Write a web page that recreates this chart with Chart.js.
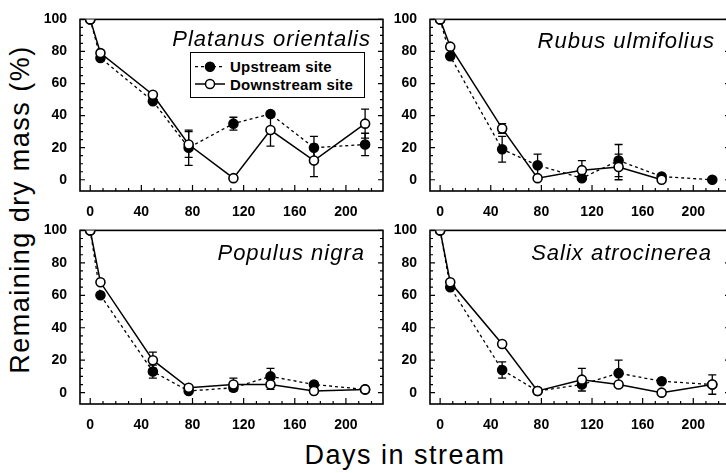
<!DOCTYPE html>
<html>
<head>
<meta charset="utf-8">
<script src="https://cdn.jsdelivr.net/npm/chart.js@4.4.0/dist/chart.umd.min.js"></script>
<style>
  html, body { margin:0; padding:0; background:#fff; overflow:hidden; width:726px; height:473px; }
  body { position:relative; font-family:"Liberation Sans", Arial, sans-serif; color:#000; }
  canvas, .txt, .box, svg { position:absolute; }
  .title { font-style:italic; font-size:22px; line-height:22px; letter-spacing:1px; white-space:nowrap; text-align:right; }
  .axis { font-size:27px; line-height:27px; letter-spacing:1.5px; white-space:nowrap; text-align:center; }
  .leg { font-size:15px; line-height:15px; font-weight:bold; letter-spacing:0.2px; white-space:nowrap; }
</style>
</head>
<body>
<canvas id="c1" width="356" height="211" style="left:35px;top:6px"></canvas>
<canvas id="c2" width="353" height="211" style="left:385px;top:6px"></canvas>
<canvas id="c3" width="356" height="213" style="left:35px;top:217px"></canvas>
<canvas id="c4" width="353" height="213" style="left:385px;top:217px"></canvas>

<div class="txt title" style="right:355px;top:28px">Platanus orientalis</div>
<div class="txt title" style="right:11px;top:30px">Rubus ulmifolius</div>
<div class="txt title" style="right:361px;top:242px">Populus nigra</div>
<div class="txt title" style="right:14px;top:242px">Salix atrocinerea</div>

<div class="box" style="left:190px;top:52px;width:175px;height:46px;box-sizing:border-box;border:1.5px solid #000;background:#fff"></div>
<svg width="36" height="34" style="left:193px;top:58px">
  <line x1="2" y1="8.7" x2="32" y2="8.7" stroke="#000" stroke-width="1.3" stroke-dasharray="3,3"/>
  <circle cx="17" cy="8.7" r="4.5" fill="#000" stroke="#000" stroke-width="1.5"/>
  <line x1="2" y1="26" x2="32" y2="26" stroke="#000" stroke-width="1.5"/>
  <circle cx="17" cy="26" r="4.5" fill="#fff" stroke="#000" stroke-width="1.5"/>
</svg>
<div class="txt leg" style="left:230px;top:59px">Upstream site</div>
<div class="txt leg" style="left:230px;top:77px">Downstream site</div>

<div class="txt axis" style="left:-180px;top:196px;width:400px;transform:rotate(-90deg)">Remaining dry mass (%)</div>
<div class="txt axis" style="left:205px;top:442px;width:400px">Days in stream</div>

<script>
// sampling days (same for every species)
const days = [0, 8, 49, 77, 112, 141, 175, 215];
const yTicks = [0, 20, 40, 60, 80, 100];
const xTicks = [0, 40, 80, 120, 160, 200];

// Platanus orientalis
const platUp = [100, 76, 49, 20, 35, 41, 20, 22];
const platUpErr = [0, 0, 0, 11, 4, 0, 7, 7];
const platDown = [100, 79, 53, 22, 1, 31, 12, 35];
const platDownErr = [0, 0, 0, 8, 0, 10, 10, 9];

// Rubus ulmifolius
const rubUp = [100, 77, 19, 9, 1, 12, 2, 0];
const rubUpErr = [0, 0, 8, 7, 0, 10, 0, 0];
const rubDown = [100, 83, 32, 1, 6, 8, 0, null];
const rubDownErr = [0, 0, 3, 0, 6, 8, 0, 0];

// Populus nigra
const popUp = [100, 60, 13, 1, 3, 10, 5, 2];
const popUpErr = [0, 0, 4, 0, 0, 5, 0, 0];
const popDown = [100, 68, 20, 3, 5, 5, 1, 2];
const popDownErr = [0, 0, 5, 0, 4, 3, 0, 0];

// Salix atrocinerea
const salUp = [100, 65, 14, 1, 5, 12, 7, 5];
const salUpErr = [0, 0, 5, 0, 0, 8, 0, 0];
const salDown = [100, 68, 30, 1, 8, 5, 0, 5];
const salDownErr = [0, 0, 0, 0, 7, 0, 0, 6];

function pts(vals) {
  return days.map((d, i) => ({ x: d, y: vals[i] }));
}

// box round the plot with inward ticks
const frame = {
  id: 'frame',
  beforeDatasetsDraw(chart) {
    const { ctx, chartArea: a, scales: { x, y } } = chart;
    ctx.save();
    ctx.strokeStyle = '#000';
    ctx.lineWidth = 1.6;
    ctx.strokeRect(a.left, a.top, a.right - a.left, a.bottom - a.top);
    ctx.lineWidth = 1.2;
    ctx.beginPath();
    for (let v = 0; v <= 100; v += 5) {
      const py = y.getPixelForValue(v), len = v % 20 ? 3 : 5;
      ctx.moveTo(a.left, py); ctx.lineTo(a.left + len, py);
      ctx.moveTo(a.right, py); ctx.lineTo(a.right - len, py);
    }
    for (let v = 0; v <= x.max; v += 10) {
      const px = x.getPixelForValue(v), len = v % 40 ? 3 : 6;
      ctx.moveTo(px, a.bottom); ctx.lineTo(px, a.bottom - len);
    }
    ctx.stroke();
    ctx.restore();
  }
};

// vertical error bars from each dataset's errs array
const errorBars = {
  id: 'errorBars',
  beforeDatasetsDraw(chart) {
    const { ctx, scales: { x, y } } = chart;
    ctx.save();
    ctx.strokeStyle = '#000';
    ctx.lineWidth = 1.3;
    chart.data.datasets.forEach(ds => {
      (ds.errs || []).forEach((e, i) => {
        const p = ds.data[i];
        if (!e || p.y == null) return;
        const px = x.getPixelForValue(p.x);
        const t = y.getPixelForValue(p.y + e), b = y.getPixelForValue(p.y - e);
        ctx.beginPath();
        ctx.moveTo(px, t); ctx.lineTo(px, b);
        ctx.moveTo(px - 4, t); ctx.lineTo(px + 4, t);
        ctx.moveTo(px - 4, b); ctx.lineTo(px + 4, b);
        ctx.stroke();
      });
    });
    ctx.restore();
  }
};

function makePanel(id, up, upErr, down, downErr) {
  new Chart(document.getElementById(id), {
    type: 'line',
    data: {
      datasets: [
        {
          label: 'Downstream site',
          data: pts(down), errs: downErr,
          borderColor: '#000', borderWidth: 1.5,
          pointRadius: 4.5, pointBackgroundColor: '#fff',
          pointBorderColor: '#000', pointBorderWidth: 1.6
        },
        {
          label: 'Upstream site',
          data: pts(up), errs: upErr,
          borderColor: '#000', borderWidth: 1.3, borderDash: [3, 3],
          pointRadius: 4.5, pointBackgroundColor: '#000',
          pointBorderColor: '#000', pointBorderWidth: 1.6
        }
      ]
    },
    options: {
      responsive: false,
      animation: false,
      devicePixelRatio: 1,
      layout: { padding: { top: 10, right: 8, left: 0, bottom: 0 } },
      plugins: { legend: { display: false }, tooltip: { enabled: false } },
      scales: {
        x: {
          type: 'linear', min: -8, max: 229,
          grid: { display: false }, border: { display: false },
          afterBuildTicks: s => { s.ticks = xTicks.map(v => ({ value: v })); },
          afterFit: s => { s.height = 26; },
          ticks: { color: '#000', padding: 5, maxRotation: 0,
                   font: { family: 'Liberation Sans', size: 14, weight: 'bold' } }
        },
        y: {
          min: -7, max: 100,
          grid: { display: false }, border: { display: false },
          afterBuildTicks: s => { s.ticks = yTicks.map(v => ({ value: v })); },
          afterFit: s => { s.width = 45; },
          ticks: { color: '#000', padding: 5,
                   font: { family: 'Liberation Sans', size: 14, weight: 'bold' } }
        }
      }
    },
    plugins: [frame, errorBars]
  });
}

makePanel('c1', platUp, platUpErr, platDown, platDownErr);
makePanel('c2', rubUp, rubUpErr, rubDown, rubDownErr);
makePanel('c3', popUp, popUpErr, popDown, popDownErr);
makePanel('c4', salUp, salUpErr, salDown, salDownErr);
</script>
</body>
</html>
